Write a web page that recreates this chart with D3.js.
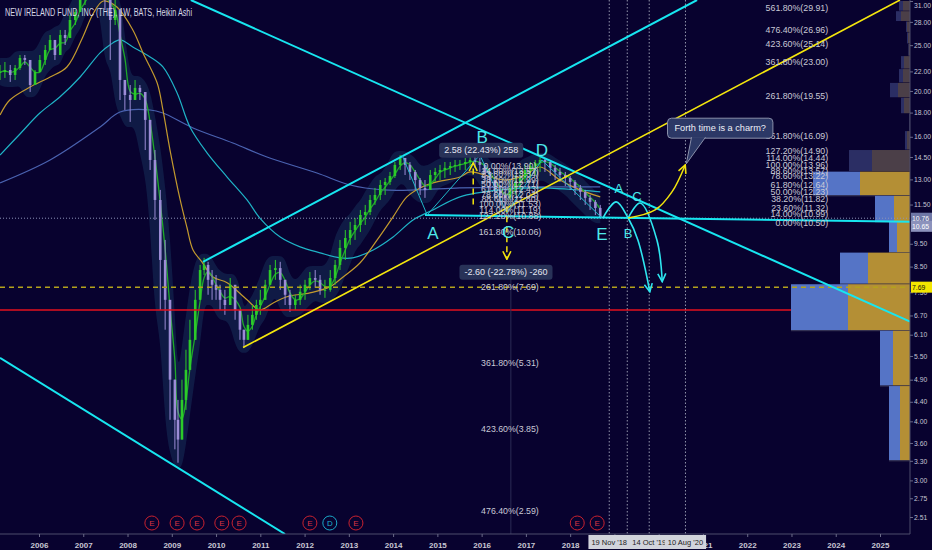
<!DOCTYPE html>
<html><head><meta charset="utf-8">
<script src="https://cdn.jsdelivr.net/npm/d3@7/dist/d3.min.js"></script>
<style>html,body{margin:0;padding:0;background:#08022f;overflow:hidden}svg{display:block;font-family:"Liberation Sans",Arial,sans-serif}</style>
</head><body><svg id="c" width="932" height="550"></svg>
<script>
const title = "NEW IRELAND FUND, INC (THE), 1W, BATS, Heikin Ashi";
// ~5-week samples (decimal years)
const dates = [2005.12,2005.23,2005.35,2005.46,2005.57,2005.68,2005.80,2005.91,2006.02,2006.14,2006.25,2006.36,2006.48,2006.59,2006.70,2006.82,2006.93,2007.04,2007.15,2007.27,2007.38,2007.49,2007.61,2007.72,2007.83,2007.94,2008.06,2008.17,2008.28,2008.40,2008.51,2008.62,2008.74,2008.85,2008.96,2009.07,2009.14,2009.23,2009.32,2009.41,2009.53,2009.64,2009.73,2009.82,2009.91,2010.00,2010.09,2010.20,2010.32,2010.43,2010.54,2010.63,2010.72,2010.82,2010.91,2011.00,2011.11,2011.22,2011.34,2011.45,2011.56,2011.67,2011.79,2011.90,2012.01,2012.12,2012.24,2012.35,2012.46,2012.58,2012.69,2012.80,2012.92,2013.03,2013.14,2013.26,2013.37,2013.48,2013.59,2013.71,2013.82,2013.93,2014.04,2014.16,2014.27,2014.38,2014.50,2014.61,2014.72,2014.84,2014.95,2015.06,2015.17,2015.29,2015.40,2015.51,2015.63,2015.74,2015.85,2015.96,2016.08,2016.19,2016.30,2016.42,2016.53,2016.64,2016.76,2016.87,2016.98,2017.10,2017.21,2017.32,2017.43,2017.55,2017.66,2017.77,2017.89,2018.00,2018.11,2018.23,2018.34,2018.45,2018.57,2018.68];
const highs = [22.70,23.03,22.70,22.70,23.83,23.83,22.15,22.15,23.83,25.02,26.27,25.64,26.92,26.92,28.96,29.67,31.9,32.7,33.5,33.5,33.5,32.7,30.40,31.15,25.64,21.10,20.59,21.10,20.59,19.61,17.37,15.00,12.35,9.68,6.56,4.90,4.44,4.90,5.67,6.56,7.59,8.57,8.87,8.70,8.36,8.16,7.78,7.59,8.04,7.59,6.72,6.25,6.72,7.05,7.23,7.59,7.97,8.57,8.78,8.70,7.97,7.59,7.41,7.78,7.97,8.28,8.36,8.16,7.97,8.36,8.78,9.68,10.16,10.57,10.77,11.20,11.48,12.05,12.47,12.96,13.09,13.48,14.15,14.64,14.43,14.15,13.61,13.09,12.96,13.61,13.75,13.95,14.15,14.15,14.29,14.29,14.43,14.64,14.64,14.43,13.95,13.48,13.09,12.65,12.47,12.96,13.28,13.61,13.95,14.15,14.29,14.50,14.43,14.15,13.95,13.75,13.48,13.22,12.96,12.65,12.35,12.05,11.76,11.48];
const lows = [21.10,21.31,20.90,21.10,22.15,22.70,19.90,20.59,22.15,22.70,24.42,23.26,25.02,25.02,26.92,27.58,29.67,30.40,31.15,31.15,31.15,29.67,23.26,27.58,19.14,18.23,17.20,19.14,19.14,15.00,13.61,10.67,6.88,6.25,4.03,3.49,3.27,3.66,4.23,5.14,5.95,7.23,8.16,7.41,7.23,7.23,6.88,6.72,7.23,6.56,5.95,5.73,5.95,6.25,6.56,6.72,7.23,7.78,7.97,7.59,7.05,6.82,6.88,7.05,7.23,7.59,7.67,7.41,7.30,7.52,7.78,8.36,8.78,9.45,9.68,10.06,10.41,10.93,11.48,11.76,12.05,12.65,13.09,13.61,13.28,12.96,12.35,12.05,11.88,12.41,12.84,12.96,13.09,13.28,13.48,13.61,13.61,13.75,13.75,13.48,12.96,12.35,11.88,11.48,11.31,11.76,12.05,12.35,12.84,13.09,13.28,13.48,13.48,13.22,12.96,12.84,12.59,12.35,12.05,11.76,11.48,11.20,10.93,10.77];
const closes = [21.93,22.15,21.62,22.37,23.49,23.26,20.59,21.93,23.26,24.42,25.64,23.83,26.27,25.89,28.26,29.38,31.15,31.9,32.7,32.4,32.7,31.15,28.26,29.67,21.10,19.61,19.14,20.30,19.90,17.37,14.29,11.76,8.78,7.23,4.90,4.03,3.66,4.44,5.14,5.95,7.23,8.36,8.57,7.97,7.78,7.59,7.23,7.05,7.78,6.88,6.25,5.95,6.40,6.72,7.05,7.23,7.78,8.36,8.44,7.97,7.41,7.05,7.23,7.52,7.78,8.04,7.97,7.59,7.59,8.04,8.57,9.31,9.77,10.16,10.41,10.93,11.09,11.76,12.05,12.65,12.84,13.22,13.95,14.43,13.95,13.48,12.96,12.47,12.35,13.28,13.48,13.61,13.75,13.88,13.95,14.02,14.15,14.29,14.15,13.95,13.48,12.96,12.35,12.05,11.88,12.47,12.84,13.09,13.61,13.88,14.08,14.29,14.15,13.75,13.48,13.28,13.09,12.84,12.47,12.23,11.88,11.65,11.31,10.80];

const goldMA = [[2005.12,17.79],[2005.34,19.14],[2005.80,20.39],[2006.25,21.41],[2006.63,22.48],[2006.99,26.02],[2007.22,29.10],[2007.45,31.0],[2007.76,30.1],[2008.12,26.92],[2008.35,24.07],[2008.67,20.79],[2008.80,18.23],[2008.96,15.00],[2009.19,11.76],[2009.34,10.31],[2009.48,9.22],[2009.68,8.70],[2009.93,8.08],[2010.25,7.86],[2010.70,7.23],[2010.99,6.88],[2011.29,7.12],[2011.60,7.34],[2012.12,7.48],[2012.57,7.70],[2012.87,8.08],[2013.25,8.65],[2013.64,9.68],[2014.00,10.83],[2014.31,11.94],[2014.61,12.47],[2014.90,12.78],[2015.51,13.15],[2015.74,13.48],[2016.53,12.96],[2016.98,13.28],[2017.32,13.81],[2017.77,12.96],[2018.22,12.35],[2018.68,11.94]];
const cyanMA = [[2005.12,14.64],[2005.57,16.22],[2006.02,17.96],[2006.47,19.42],[2006.93,21.41],[2007.38,24.07],[2007.60,25.02],[2007.83,25.64],[2008.12,24.78],[2008.51,23.60],[2008.80,22.48],[2009.12,19.80],[2009.41,16.78],[2009.80,14.78],[2010.25,13.15],[2010.70,11.76],[2010.99,10.77],[2011.45,9.82],[2011.90,9.36],[2012.35,9.09],[2012.80,8.87],[2013.09,8.87],[2013.55,9.22],[2014.00,9.82],[2014.45,10.67],[2014.90,11.20],[2015.51,11.94],[2016.42,12.35],[2017.32,12.47],[2018.68,12.23]];
const blueMA = [[2005.12,12.78],[2006.25,14.29],[2007.38,16.78],[2007.83,18.05],[2008.51,18.23],[2008.80,17.96],[2009.48,16.70],[2010.38,15.52],[2011.15,14.50],[2012.28,13.41],[2013.03,12.65],[2013.77,12.35],[2014.54,12.35],[2015.51,12.47],[2016.87,12.53],[2018.68,12.53]];

const years = [2006,2007,2008,2009,2010,2011,2012,2013,2014,2015,2016,2017,2018,2019,2020,2021,2022,2023,2024,2025];
const priceTicks = [31,28,25,22,20,18,16,14.5,13,11.5,9.5,8.5,7.5,6.7,6.1,5.5,4.9,4.4,4.0,3.6,3.3,3.0,2.75,2.51];

const lastPrice = 10.76, secondPrice = 10.65, supportLevel = 7.69, redLevel = 6.88;

const cyanLines = [[[2009.43,31.15],[2025.68,6.50]],[[2009.705,8.70],[2020.867,31.15]],[[2005.119,5.45],[2011.558,2.31]],[[2014.72,10.93],[2025.68,10.57]]];
const yellowLines = [[[2010.61,5.73],[2025.45,31.15]]];
const waveZigzag = [[2014.20,14.64],[2014.77,10.93],[2015.96,14.64],[2016.57,11.04],[2017.36,14.29],[2018.72,10.77]];
const waveLabels = [["A",2014.90,10.01,17],["B",2016.01,16.0,17],["C",2016.60,10.06,17],["D",2017.36,15.00,17],["E",2018.72,9.97,17],["A",2019.10,12.41,13],["B",2019.31,9.97,13],["C",2019.51,11.94,13]];
const arcA = [[2018.74,10.77],[2019.04,11.65],[2019.31,10.77],[2019.53,9.68],[2019.80,7.52]];
const arcC = [[2019.31,10.77],[2019.58,11.59],[2019.96,9.68],[2020.08,7.90]];
const yellowCurve = [[2019.31,10.77],[2019.92,11.20],[2020.30,12.23],[2020.60,13.95]];
const measures = [
  {t:2015.81, from:11.50, to:14.08, label:"2.58 (22.43%) 258", lt:2015.99, lp:15.00},
  {t:2016.57, from:11.41, to:8.81, label:"-2.60 (-22.78%) -260", lt:2016.55, lp:8.28}
];
const callout = {text:"Forth time is a charm?", t:2021.39, p:16.70};

const fibLevels = ["0.00%","14.00%","23.60%","38.20%","50.00%","61.80%","78.60%","88.60%","100.00%","114.00%","127.20%","161.80%","261.80%","361.80%","423.60%","476.40%","561.80%"];
const fibLeftValues = [13.90,13.57,13.34,12.99,12.71,12.43,12.03,11.80,11.53,11.19,10.88,10.06,7.69,5.31,3.85,2.59];
const fibRightValues = [10.50,10.99,11.32,11.82,12.23,12.64,13.22,13.57,13.96,14.44,14.90,16.09,19.55,23.00,25.14,26.96,29.91];
const fibLeftAt = 2016.64, fibRightAt = 2023.83;

const vpBins = [[29.5,31.0],[28.05,29.5],[26.6,28.05],[25.15,26.6],[23.7,25.15],[22.25,23.7],[20.8,22.25],[19.35,20.8],[17.9,19.35],[16.45,17.9],[15.0,16.45],[13.5,15.0],[12.0,13.5],[10.57,12.0],[9.1,10.57],[7.8,9.1],[6.22,7.8],[4.75,6.22],[3.3,4.75]];
const vpUp = [4,5,1,1,0.5,3,4,8,3,0.5,2,23,47,19,8,28,57,13,11];
const vpDown = [7,9,3,2,1.5,6,7,12,6,0.5,3,38,50,16,13,42,62,17,10];
const valueAreaHigh = 13.5;

const events = [[2008.55,"E"],[2009.12,"E"],[2009.57,"E"],[2010.13,"E"],[2010.52,"E"],[2012.12,"E"],[2012.57,"D"],[2013.16,"E"],[2018.16,"E"],[2018.61,"E"]];
const dateMarks = [[2019.29,"Apr '19"],[2018.883,"19 Nov '18"],[2019.786,"14 Oct '19"],[2020.605,"10 Aug '20"]];

// ---------- drawing ----------
const R = 910, B = 534;
const x = d3.scaleLinear().domain([2006,2025]).range([39,880]);
const y = d3.scaleLog().domain([31,2.51]).range([1,517]);
const svg = d3.select("#c");
svg.append("rect").attr("width",932).attr("height",550).attr("fill","#08022f");
const defs = svg.append("defs");
defs.append("clipPath").attr("id","plot").append("rect").attr("width",R).attr("height",B);
function mk(id,color){defs.append("marker").attr("id",id).attr("viewBox","0 0 10 10").attr("refX",9).attr("refY",5)
  .attr("markerWidth",10).attr("markerHeight",10).attr("markerUnits","userSpaceOnUse").attr("orient","auto")
  .append("path").attr("d","M1,1 L9,5 L1,9").attr("fill","none").attr("stroke",color).attr("stroke-width",1.6);}
mk("arC","#2ee6ef"); mk("arY","#f2e40c");
const g = svg.append("g").attr("clip-path","url(#plot)");
const P = d=>[x(d[0]),y(d[1])];
const line = d3.line().x(d=>x(d[0])).y(d=>y(d[1]));

// band
const n = dates.length;
const band = dates.map((t,i)=>{const a=Math.max(0,i-1),b=Math.min(n-1,i+1);
  return {t,u:d3.max(highs.slice(a,b+1))*1.02,l:d3.min(lows.slice(a,b+1))*0.975};});
g.append("path").datum(band).attr("d",d3.area().x(d=>x(d.t)).y0(d=>y(d.l)).y1(d=>y(d.u)).curve(d3.curveBasis))
  .attr("fill","#111d48").attr("opacity",0.9);

// MAs
const smooth = d3.line().x(d=>x(d[0])).y(d=>y(d[1])).curve(d3.curveCatmullRom);
g.append("path").datum(blueMA).attr("d",smooth).attr("fill","none").attr("stroke","#4a62b0").attr("stroke-width",1.2);
g.append("path").datum(cyanMA).attr("d",smooth).attr("fill","none").attr("stroke","#1fb3c6").attr("stroke-width",1.2);
g.append("path").datum(goldMA).attr("d",smooth).attr("fill","none").attr("stroke","#c39a2e").attr("stroke-width",1.2);
const greenMA = dates.map((t,i)=>[t,d3.mean(closes.slice(Math.max(0,i-2),i+1))]);
g.append("path").datum(greenMA).attr("d",smooth).attr("fill","none").attr("stroke","#1fa82a").attr("stroke-width",1.3);

// candles
dates.forEach((t,i)=>{
  const o = i>0?closes[i-1]:closes[0], c = closes[i];
  const col = c>=o?"#2ccb2a":"#9c8cd6";
  const cx = x(t);
  g.append("line").attr("x1",cx).attr("x2",cx).attr("y1",y(highs[i])).attr("y2",y(lows[i])).attr("stroke",col).attr("stroke-width",1);
  const y1=y(Math.max(o,c)), y2=y(Math.min(o,c));
  g.append("rect").attr("x",cx-1.3).attr("width",2.6).attr("y",y1).attr("height",Math.max(1,y2-y1)).attr("fill",col);
});

// red level (behind profile)
g.append("line").attr("x1",0).attr("x2",R).attr("y1",y(redLevel)).attr("y2",y(redLevel)).attr("stroke","#e3101e").attr("stroke-width",1.6);

// volume profile
const vx = d3.scaleLinear().domain([0,1]).range([0,1]);
vpBins.forEach((b,i)=>{
  const dim = b[0] >= valueAreaHigh;
  const yt = y(b[1]), yb = y(b[0]), h = yb-yt-0.5;
  const wd = vx(vpDown[i]), wu = vx(vpUp[i]);
  g.append("rect").attr("x",R-wd).attr("y",yt).attr("width",wd).attr("height",h).attr("fill",dim?"#4b3f48":"#b48f35");
  g.append("rect").attr("x",R-wd-wu).attr("y",yt).attr("width",wu).attr("height",h).attr("fill",dim?"#2b2e64":"#5574c6");
  if(!dim) g.append("line").attr("x1",R-wd-wu).attr("x2",R).attr("y1",yb).attr("y2",yb).attr("stroke","#3a3856").attr("stroke-width",1);
});

// horizontal levels
g.append("line").attr("x1",0).attr("x2",R).attr("y1",y(supportLevel)).attr("y2",y(supportLevel)).attr("stroke","#b3a21c").attr("stroke-width",1.5).attr("stroke-dasharray","5,4");
g.append("line").attr("x1",0).attr("x2",R).attr("y1",y(lastPrice)).attr("y2",y(lastPrice)).attr("stroke","#8d92b8").attr("stroke-width",1).attr("stroke-dasharray","1,2");

// vertical date lines
dateMarks.forEach(d=>g.append("line").attr("x1",x(d[0])).attr("x2",x(d[0])).attr("y1",0).attr("y2",B).attr("stroke","#b8bccc").attr("stroke-width",0.8).attr("stroke-dasharray","1.5,2"));
g.append("line").attr("x1",x(2016.66)).attr("x2",x(2016.66)).attr("y1",y(8.5)).attr("y2",B).attr("stroke","#2c2c55").attr("stroke-width",1);

// trend lines
cyanLines.forEach(l=>g.append("path").attr("d",line(l)).attr("stroke","#17e6f0").attr("stroke-width",2).attr("fill","none"));
yellowLines.forEach(l=>g.append("path").attr("d",line(l)).attr("stroke","#f4e60d").attr("stroke-width",1.6).attr("fill","none"));

// wave structure
g.append("path").attr("d",line(waveZigzag)).attr("stroke","#1fb8c8").attr("stroke-width",1).attr("fill","none");
[arcA,arcC].forEach(a=>g.append("path").attr("d",smooth(a)).attr("stroke","#2ee6ef").attr("stroke-width",1.6).attr("fill","none").attr("marker-end","url(#arC)"));
g.append("path").attr("d",smooth(yellowCurve)).attr("stroke","#f2e40c").attr("stroke-width",1.5).attr("fill","none").attr("marker-end","url(#arY)");

// measures
measures.forEach(m=>{
  g.append("line").attr("x1",x(m.t)).attr("x2",x(m.t)).attr("y1",y(m.from)).attr("y2",y(m.to)).attr("stroke","#f2e40c").attr("stroke-width",1.5).attr("stroke-dasharray","6,4").attr("marker-end","url(#arY)");
});

// fib labels
const fib = svg.append("g").attr("font-size",8.8).attr("fill","#c9c9d6");
fibLeftValues.forEach((v,i)=>fib.append("text").attr("x",x(fibLeftAt)).attr("y",y(v)).attr("dy","0.35em").attr("text-anchor","middle").text(fibLevels[i]+"("+v.toFixed(2)+")"));
fibRightValues.forEach((v,i)=>fib.append("text").attr("x",x(fibRightAt)).attr("y",y(v)).attr("dy","0.35em").attr("text-anchor","end").text(fibLevels[i]+"("+v.toFixed(2)+")"));

// measure labels
measures.forEach(m=>{
  const gg = svg.append("g");
  const t = gg.append("text").attr("x",x(m.lt)).attr("y",y(m.lp)).attr("dy","0.35em").attr("text-anchor","middle").attr("font-size",9).attr("fill","#e4e6f2").text(m.label);
  const bb = t.node().getBBox();
  gg.insert("rect","text").attr("x",bb.x-5).attr("y",bb.y-2.5).attr("width",bb.width+10).attr("height",bb.height+5).attr("rx",3).attr("fill","#283258");
});

// wave labels
waveLabels.forEach(w=>svg.append("text").attr("x",x(w[1])).attr("y",y(w[2])).attr("dy","0.35em").attr("text-anchor","middle")
  .attr("font-size",w[3]).attr("fill","#4fe9ea").text(w[0]));

// callout
{
  const cx = x(callout.t), cy = y(callout.p);
  const tip = P(yellowCurve[yellowCurve.length-1]);
  const gg = svg.append("g");
  const t = gg.append("text").attr("x",cx).attr("y",cy).attr("dy","0.35em").attr("text-anchor","middle").attr("font-size",9.2).attr("fill","#eef0f8").text(callout.text);
  const bb = t.node().getBBox();
  const bx = bb.x-7, by = bb.y-5, bw = bb.width+14, bh = bb.height+10;
  gg.insert("path","text").attr("d",`M${bx+24},${by+bh-1} L${tip[0]+1},${tip[1]-1} L${bx+38},${by+bh-1}`).attr("fill","#2c3866").attr("stroke","#8a90aa").attr("stroke-width",1);
  gg.insert("rect","path").attr("x",bx).attr("y",by).attr("width",bw).attr("height",bh).attr("rx",4).attr("fill","#2c3866").attr("stroke","#8a90aa").attr("stroke-width",1);
}

// events
events.forEach(e=>{
  const ex = x(e[0]), isD = e[1]==="D", col = isD?"#1aa8c8":"#c8222f";
  svg.append("circle").attr("cx",ex).attr("cy",523).attr("r",7).attr("fill","#08022f").attr("stroke",col).attr("stroke-width",1);
  svg.append("text").attr("x",ex).attr("y",523).attr("dy","0.35em").attr("text-anchor","middle").attr("font-size",8).attr("fill",isD?"#1fb4d0":"#d83542").text(e[1]);
});

// axes
svg.append("line").attr("x1",R).attr("x2",R).attr("y1",0).attr("y2",B).attr("stroke","#4c4c6c");
svg.append("line").attr("x1",0).attr("x2",R).attr("y1",B).attr("y2",B).attr("stroke","#4c4c6c");
const ya = svg.append("g").attr("transform",`translate(${R},0)`).call(d3.axisRight(y).tickValues(priceTicks).tickFormat(d3.format(".2f")).tickSize(3).tickPadding(1));
ya.select(".domain").remove();
ya.selectAll("line").attr("stroke","#6a6a88");
ya.selectAll("text").attr("fill","#c4c4d2").attr("font-size",6.8).attr("font-family","Liberation Sans, Arial, sans-serif");
ya.selectAll(".tick").filter(d=>d===31).select("text").attr("dy","0.9em");
const xa = svg.append("g").attr("transform",`translate(0,${B})`).call(d3.axisBottom(x).tickValues(years).tickFormat(d3.format("d")).tickSize(3).tickPadding(5));
xa.select(".domain").remove();
xa.selectAll("line").attr("stroke","#6a6a88");
xa.selectAll("text").attr("fill","#c8c8d4").attr("font-size",8).attr("font-weight","bold").attr("font-family","Liberation Sans, Arial, sans-serif");

// price badges
function badge(v,fill,txtCol,dyOff){
  const yy = y(v)+dyOff;
  svg.append("rect").attr("x",R+1).attr("y",yy-5.5).attr("width",21).attr("height",11).attr("fill",fill);
  svg.append("text").attr("x",R+2).attr("y",yy).attr("dy","0.35em").attr("font-size",6.8).attr("fill",txtCol).text(v.toFixed(2));
}
badge(lastPrice,"#6e77a6","#ffffff",0);
badge(secondPrice,"#8c92bc","#ffffff",6);
badge(supportLevel,"#f3e600","#111111",0);

// date boxes
dateMarks.forEach(d=>{
  const gg = svg.append("g");
  const t = gg.append("text").attr("x",x(d[0])).attr("y",542).attr("dy","0.35em").attr("text-anchor","middle").attr("font-size",7.5).attr("fill","#222").text(d[1]);
  const bb = t.node().getBBox();
  gg.insert("rect","text").attr("x",bb.x-3).attr("y",535).attr("width",bb.width+6).attr("height",14).attr("fill","#d2d4dc");
});

// title
svg.append("text").attr("x",5).attr("y",12).attr("dy","0.35em").attr("font-size",10).attr("fill","#d6d8e6")
  .attr("textLength",187).attr("lengthAdjust","spacingAndGlyphs").text(title);
</script></body></html>
